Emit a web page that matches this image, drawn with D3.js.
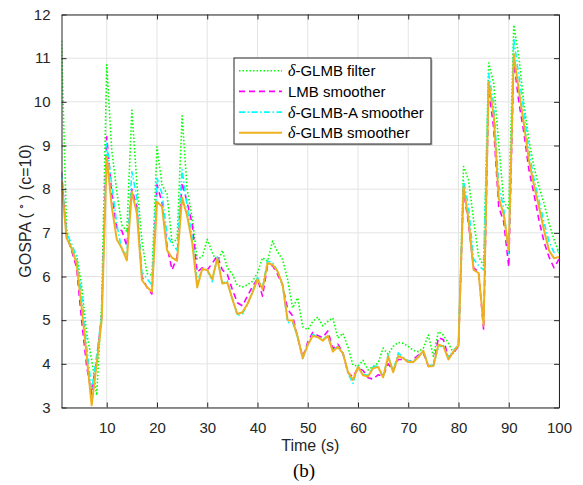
<!DOCTYPE html>
<html>
<head>
<meta charset="utf-8">
<script src="https://cdn.jsdelivr.net/npm/d3@7"></script>
<style>
  body { margin: 0; background: #ffffff; }
  svg { display: block; font-family: "Liberation Sans", Arial, sans-serif; }
</style>
</head>
<body>
<svg id="chart" width="583" height="485"></svg>
<script>
// time steps 1..100
const time = d3.range(1, 101);

const glmbFilter = [
  11.4, 7.1, 6.6, 6.5, 5.8, 4.7, 4.1, 3.28, 5.4, 10.85,
  8.9, 7.94, 7.18, 7.03, 9.81, 8.13, 6.83, 6.07, 6.03, 8.97,
  8.1, 7.89, 6.78, 6.85, 9.68, 8.0, 7.35, 6.4, 6.45, 6.85,
  6.55, 6.3, 6.6, 6.2, 6.05, 5.8, 5.76, 5.81, 5.89, 6.08,
  6.43, 6.35, 6.81, 6.56, 6.39, 5.93, 5.28, 5.51, 4.85, 4.78,
  4.97, 5.07, 4.87, 4.97, 5.05, 4.59, 4.7, 4.39, 3.97, 3.95,
  4.08, 3.86, 3.94, 4.02, 4.36, 4.22, 4.4, 4.49, 4.47, 4.4,
  4.31, 4.28, 4.36, 4.66, 4.17, 4.74, 4.66, 4.47, 4.24, 4.43,
  8.52, 8.21, 7.3, 6.45, 6.25, 10.89, 10.43, 9.05, 7.72, 7.53,
  11.76, 11.04, 9.97, 9.13, 8.52, 8.06, 7.68, 7.23, 6.85, 6.54
];

const lmbSmoother = [
  8.4, 6.95, 6.6, 6.2, 5.0, 3.95, 3.3, 4.1, 5.1, 9.2,
  7.9, 7.1, 7.05, 6.7, 8.0, 7.6, 6.0, 5.75, 5.6, 8.1,
  7.7, 6.7, 6.15, 6.45, 8.15, 7.7, 7.2, 6.1, 6.2, 6.15,
  6.3, 6.48, 6.15, 6.05, 5.7, 5.4, 5.33, 5.55, 5.77, 5.95,
  5.55, 6.25, 6.25, 6.05, 5.8, 5.25, 5.1, 4.6, 4.15, 4.5,
  4.72, 4.65, 4.6, 4.75, 4.35, 4.45, 4.25, 3.8, 3.7, 3.9,
  3.85, 3.68, 3.65, 3.75, 3.72, 4.0, 3.85, 4.1, 4.1, 4.05,
  4.1, 4.2, 4.25, 3.95, 3.95, 4.6, 4.55, 4.15, 4.25, 4.4,
  7.98, 7.2, 6.2, 6.1, 4.78, 10.3, 9.4, 7.6, 7.25, 6.22,
  10.95, 10.0, 9.3, 8.45, 7.9, 7.3, 6.8, 6.45, 6.2, 6.4
];

const glmbASmoother = [
  8.35, 7.0, 6.75, 6.45, 5.6, 4.4, 3.4, 4.2, 5.1, 9.05,
  8.1, 7.2, 6.6, 6.5, 8.4, 7.8, 6.1, 5.95, 5.8, 8.25,
  7.9, 6.95, 6.75, 6.6, 8.45, 7.6, 6.9, 5.9, 6.15, 6.15,
  5.88, 6.45, 5.85, 5.9, 5.5, 5.1, 5.15, 5.35, 5.65, 5.98,
  5.75, 6.35, 6.33, 6.12, 5.8, 4.95, 4.95, 4.6, 4.12, 4.45,
  4.67, 4.62, 4.55, 4.66, 4.3, 4.4, 4.25, 3.78, 3.55, 3.95,
  3.76, 3.74, 3.93, 3.95, 3.7, 4.2, 3.83, 4.25, 4.15, 4.07,
  4.06, 4.17, 4.3, 3.96, 3.97, 4.38, 4.42, 4.15, 4.3, 4.45,
  8.2, 7.6, 6.4, 6.25, 6.15, 10.65, 9.95, 8.1, 7.55, 6.5,
  11.45, 10.6, 9.8, 8.9, 8.25, 7.75, 7.25, 6.8, 6.55, 6.6
];

const glmbSmoother = [
  8.2, 6.88, 6.65, 6.3, 5.3, 4.2, 3.05, 4.0, 5.0, 8.75,
  7.6, 6.85, 6.65, 6.37, 7.94, 7.45, 5.92, 5.76, 5.65, 7.71,
  7.6, 6.6, 6.43, 6.36, 7.81, 7.39, 6.78, 5.75, 6.17, 6.15,
  5.94, 6.41, 5.84, 5.86, 5.48, 5.14, 5.18, 5.37, 5.63, 5.94,
  5.71, 6.31, 6.27, 6.12, 5.81, 5.0, 4.99, 4.62, 4.13, 4.43,
  4.64, 4.61, 4.53, 4.64, 4.28, 4.39, 4.24, 3.82, 3.63, 3.93,
  3.74, 3.71, 3.9, 3.93, 3.69, 4.17, 3.81, 4.18, 4.13, 4.04,
  4.04, 4.15, 4.3, 3.94, 3.95, 4.44, 4.4, 4.1, 4.28, 4.42,
  8.06, 7.3, 6.15, 6.08, 4.88, 10.45, 9.7, 7.8, 7.42, 6.6,
  11.1, 10.27, 9.5, 8.67, 8.1, 7.6, 7.07, 6.6, 6.42, 6.45
];

const xTicks = [10, 20, 30, 40, 50, 60, 70, 80, 90, 100];
const yTicks = [3, 4, 5, 6, 7, 8, 9, 10, 11, 12];

const series = [
  { name: "-GLMB filter", delta: true, values: glmbFilter, color: "#00ff00", dash: "1.5,2", width: 1.6 },
  { name: "LMB smoother", delta: false, values: lmbSmoother, color: "#ff00ff", dash: "6,4", width: 1.6 },
  { name: "-GLMB-A smoother", delta: true, values: glmbASmoother, color: "#00ffff", dash: "6,2.5,1.5,2.5", width: 1.6 },
  { name: "-GLMB smoother", delta: true, values: glmbSmoother, color: "#EDB120", dash: null, width: 2 }
];

const margin = { top: 14.5, right: 24, bottom: 77.5, left: 61.5 };
const W = 583, H = 485;
const width = W - margin.left - margin.right;
const height = H - margin.top - margin.bottom;
const axisColor = "#262626";

const svg = d3.select("#chart");
const g = svg.append("g").attr("transform", `translate(${margin.left},${margin.top})`);

const x = d3.scaleLinear().domain([1, 100]).range([0, width]);
const y = d3.scaleLinear().domain([3, 12]).range([height, 0]);

// grid
g.append("g")
  .selectAll("line")
  .data(xTicks)
  .join("line")
  .attr("x1", (d) => x(d)).attr("x2", (d) => x(d))
  .attr("y1", 0).attr("y2", height)
  .attr("stroke", "#e3e3e3").attr("stroke-width", 1);
g.append("g")
  .selectAll("line")
  .data(yTicks)
  .join("line")
  .attr("x1", 0).attr("x2", width)
  .attr("y1", (d) => y(d)).attr("y2", (d) => y(d))
  .attr("stroke", "#e3e3e3").attr("stroke-width", 1);

// lines
g.append("clipPath").attr("id", "clip")
  .append("rect").attr("width", width).attr("height", height);

const line = d3.line()
  .x((d, i) => x(time[i]))
  .y((d) => y(d));

g.append("g")
  .attr("clip-path", "url(#clip)")
  .selectAll("path")
  .data(series)
  .join("path")
  .attr("d", (s) => line(s.values))
  .attr("fill", "none")
  .attr("stroke", (s) => s.color)
  .attr("stroke-width", (s) => s.width)
  .attr("stroke-dasharray", (s) => s.dash)
  .attr("stroke-linejoin", "round");

// axes, ticks pointing inward
function styleAxis(sel) {
  sel.select(".domain").attr("stroke", axisColor);
  sel.selectAll(".tick line").attr("stroke", axisColor);
  sel.selectAll(".tick text")
    .attr("fill", axisColor)
    .attr("font-size", 15)
    .attr("font-family", "'Liberation Sans', Arial, sans-serif");
}

g.append("g")
  .attr("transform", `translate(0,${height})`)
  .call(d3.axisBottom(x).tickValues(xTicks).tickSize(-5).tickSizeOuter(0).tickPadding(15))
  .call(styleAxis);

g.append("g")
  .call(d3.axisLeft(y).tickValues(yTicks).tickSize(-5).tickSizeOuter(0).tickPadding(11))
  .call(styleAxis);

g.append("g")
  .call(d3.axisTop(x).tickValues(xTicks).tickSize(-5).tickSizeOuter(0).tickFormat(""))
  .call(styleAxis);

g.append("g")
  .attr("transform", `translate(${width},0)`)
  .call(d3.axisRight(y).tickValues(yTicks).tickSize(-5).tickSizeOuter(0).tickFormat(""))
  .call(styleAxis);

// axis labels
svg.append("text")
  .attr("x", margin.left + width / 2)
  .attr("y", 451)
  .attr("text-anchor", "middle")
  .attr("font-size", 16)
  .attr("fill", axisColor)
  .text("Time (s)");

const yl = svg.append("text")
  .attr("transform", `translate(31,${margin.top + height / 2}) rotate(-90)`)
  .attr("text-anchor", "middle")
  .attr("font-size", 16)
  .attr("fill", axisColor);
yl.append("tspan").text("GOSPA (");
yl.append("tspan").attr("font-size", 11).attr("dy", -6).text(" \u2218 ");
yl.append("tspan").attr("dy", 6).text(") (c=10)");

svg.append("text")
  .attr("x", 304)
  .attr("y", 477)
  .attr("text-anchor", "middle")
  .attr("font-family", "'Liberation Serif', 'Times New Roman', serif")
  .attr("font-size", 19)
  .attr("fill", "#000")
  .text("(b)");

// legend
const lg = svg.append("g").attr("transform", "translate(234,58)");
lg.append("rect")
  .attr("x", 1.5).attr("y", 1.5)
  .attr("width", 197).attr("height", 86)
  .attr("fill", "#bfbfbf");
lg.append("rect")
  .attr("width", 197).attr("height", 86)
  .attr("fill", "#ffffff")
  .attr("stroke", axisColor)
  .attr("stroke-width", 1);

const rows = lg.selectAll("g.row")
  .data(series)
  .join("g")
  .attr("class", "row")
  .attr("transform", (s, i) => `translate(0,${12.7 + i * 20.7})`);

rows.append("line")
  .attr("x1", 5).attr("x2", 48)
  .attr("stroke", (s) => s.color)
  .attr("stroke-width", (s) => s.width)
  .attr("stroke-dasharray", (s) => s.dash);

const lt = rows.append("text")
  .attr("x", 54)
  .attr("y", 5.5)
  .attr("font-size", 15)
  .attr("fill", "#000");
lt.filter((s) => s.delta)
  .append("tspan")
  .attr("font-family", "'Liberation Serif', 'Times New Roman', serif")
  .attr("font-style", "italic")
  .attr("font-size", 16)
  .text("\u03b4");
lt.append("tspan").text((s) => s.delta ? s.name : s.name);
</script>
</body>
</html>
